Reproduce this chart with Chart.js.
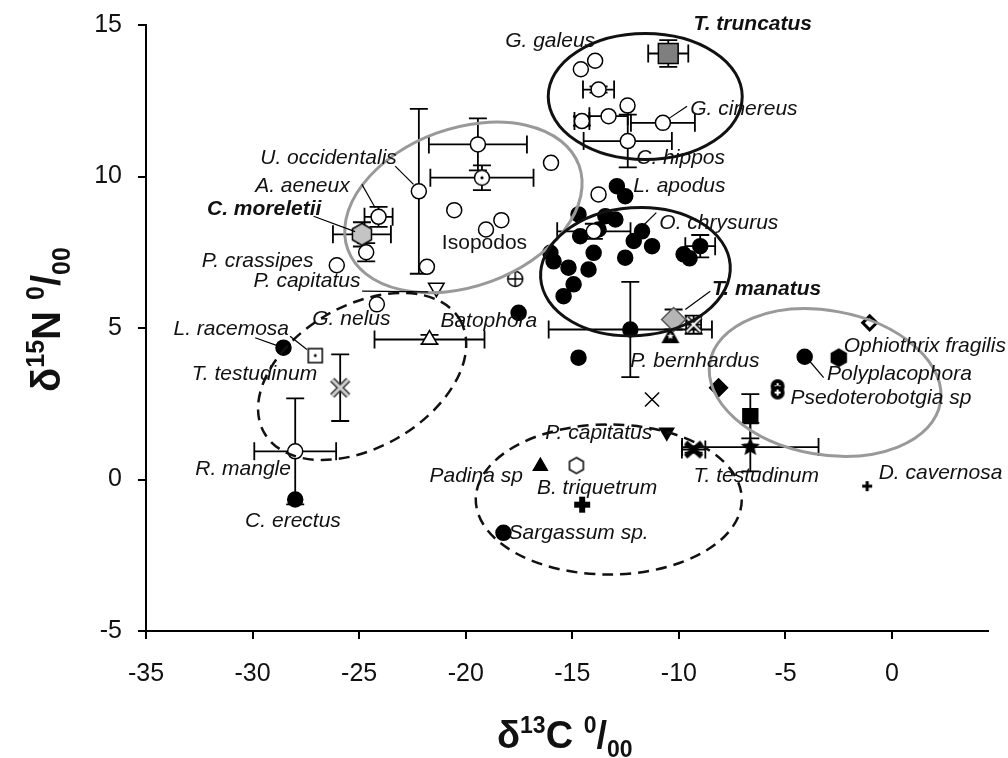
<!DOCTYPE html>
<html>
<head>
<meta charset="utf-8">
<script src="https://cdn.jsdelivr.net/npm/chart.js@4.4.1/dist/chart.umd.min.js"></script>
<style>
  html, body { margin: 0; padding: 0; background: #fff; }
  canvas { display: block; }
</style>
</head>
<body>
<canvas id="c" width="1008" height="758"></canvas>
<script>
// ---- data (delta13C, delta15N, +/- error C, +/- error N) ----
var X_TICKS = [-35, -30, -25, -20, -15, -10, -5, 0];
var Y_TICKS = [-5, 0, 5, 10, 15];

var OPEN_CIRCLES = [
  [-14.6, 13.54], [-13.93, 13.82], [-13.77, 12.87, 0.73, 0.1], [-12.41, 12.34],
  [-13.3, 11.99, 0.9, 0], [-14.55, 11.83, 0.35, 0.15], [-10.75, 11.77, 1.5, 0],
  [-12.4, 11.17, 2.07, 0.87], [-19.43, 11.06, 2.3, 0.86], [-20.54, 8.89],
  [-18.33, 8.56], [-19.05, 8.25], [-16.0, 10.45], [-22.2, 9.51, 0, 2.72],
  [-21.82, 7.02], [-24.09, 8.67, 0.66, 0.33], [-24.67, 7.5, 0, 0.3],
  [-26.05, 7.07], [-24.17, 5.78], [-28.0, 0.93, 1.92, 1.75],
  [-13.77, 9.41], [-13.99, 8.19, 1.72, 0.25]
];
var FILLED_CIRCLES = [
  [-28.55, 4.35], [-28.0, -0.66], [-18.23, -1.76], [-17.52, 5.5], [-14.71, 4.02],
  [-12.28, 4.95, 3.83, 1.57], [-12.91, 9.68], [-12.52, 9.35], [-14.71, 8.75],
  [-13.45, 8.69], [-12.98, 8.58], [-13.77, 8.25], [-14.63, 8.03], [-11.73, 8.19],
  [-12.12, 7.87], [-11.26, 7.7], [-14.0, 7.48], [-16.03, 7.48], [-15.88, 7.2],
  [-12.52, 7.32], [-15.18, 6.99], [-14.24, 6.93], [-14.94, 6.44], [-15.41, 6.05],
  [-9.78, 7.43], [-9.0, 7.7, 0.7, 0.37], [-9.5, 7.3], [-4.1, 4.05]
];
var TRUNCATUS = [[-10.5, 14.06, 0.94, 0.44]];
var MANATUS = [[-10.25, 5.28, 0, 0.33]];
var MORELETII = [[-24.87, 8.09, 1.36, 0.4]];
var GREY_X = [[-25.89, 3.03, 0, 1.1]];
var OPEN_TRI = [[-21.7, 4.62, 2.58, 0.15]];
var OPEN_TRI_DOWN = [[-21.38, 6.33]];
var FILLED_TRI_DOWN = [[-10.57, 1.56]];
var FILLED_TRI = [[-16.5, 0.44]];
var TRI_STAR = [[-10.4, 4.73]];
var CIRCLE_PLUS = [[-17.68, 6.62]];
var CIRCLE_DOT = [[-19.24, 9.96, 2.42, 0.41]];
var SQUARE_DOT = [[-27.06, 4.09]];
var HEX_OPEN = [[-14.81, 0.46]];
var HEX_FILLED = [[-2.5, 4.02]];
var PLUS_BOLD = [[-14.54, -0.83]];
var PLUS_SMALL = [[-1.17, -0.22]];
var X_THIN = [[-11.26, 2.64]];
var X_OPEN = [[-9.31, 5.11, 0.35, 0.3]];
var X_FILLED = [[-9.31, 0.99, 0.55, 0.1]];
var STAR_FILLED = [[-6.65, 1.07, 3.2, 0.8]];
var SQUARE_FILLED = [[-6.65, 2.09, 0, 0.73]];
var DIAMOND_FILLED = [[-8.14, 3.03]];
var DIAMOND_OPEN = [[-1.05, 5.17]];
var RING_CROSS = [[-5.37, 3.08], [-5.37, 2.87]];

// ---- annotations ----
// [text, x, y, style]  (x = left edge, y = middle)
var LABELS = [
  ['G. galeus', -18.15, 14.46, 'i'], ['T. truncatus', -9.32, 15.02, 'bi'],
  ['G. cinereus', -9.47, 12.21, 'i'], ['C. hippos', -12.0, 10.59, 'i'],
  ['L. apodus', -12.14, 9.68, 'i'], ['O. chrysurus', -10.92, 8.47, 'i'],
  ['U. occidentalis', -29.64, 10.62, 'i'], ['A. aeneux', -29.88, 9.68, 'i'],
  ['C. moreletii', -32.14, 8.91, 'bi'], ['P. crassipes', -32.38, 7.2, 'i'],
  ['P. capitatus', -29.96, 6.54, 'i'], ['G. nelus', -27.2, 5.28, 'i'],
  ['Batophora', -21.19, 5.22, 'i'], ['L. racemosa', -33.71, 4.95, 'i'],
  ['T. testudinum', -32.85, 3.47, 'i'], ['R. mangle', -32.69, 0.33, 'i'],
  ['C. erectus', -30.35, -1.38, 'i'], ['T. manatus', -8.45, 6.29, 'bi'],
  ['P. bernhardus', -12.28, 3.9, 'i'], ['Ophiothrix fragilis', -2.27, 4.4, 'i'],
  ['Polyplacophora', -3.05, 3.47, 'i'], ['Psedoterobotgia sp', -4.77, 2.7, 'i'],
  ['T. testudinum', -9.31, 0.11, 'i'], ['D. cavernosa', -0.63, 0.22, 'i'],
  ['P. capitatus', -16.27, 1.54, 'i'], ['Padina sp', -21.7, 0.11, 'i'],
  ['B. triquetrum', -16.66, -0.27, 'i'], ['Sargassum sp.', -17.99, -1.76, 'i'],
  ['Isopodos', -21.12, 7.81, 'n']
];
var LEADERS = [
  [-9.62, 12.32, -10.48, 11.91], [-23.31, 10.34, -22.45, 9.74],
  [-24.87, 9.74, -24.25, 8.97], [-27.14, 8.69, -25.19, 8.18],
  [-24.86, 6.22, -21.76, 6.19], [-29.88, 4.68, -28.78, 4.4],
  [-28.24, 4.73, -27.45, 4.29], [-8.53, 6.21, -9.7, 5.61],
  [-3.93, 3.96, -3.21, 3.36], [-11.06, 8.81, -11.72, 8.35]
];
// [cx, cy, rx(px), ry(px), rotation(deg), colour, dashed]
var ELLIPSES = [
  [-11.58, 12.64, 97, 63, 0, '#111', false],
  [-20.11, 8.98, 123, 79, -20, '#999', false],
  [-12.04, 6.86, 95, 64, -4, '#111', false],
  [-3.14, 3.2, 117, 72, 10, '#999', false],
  [-24.86, 3.4, 113, 71, -30, '#111', true],
  [-13.29, -0.66, 133, 75, 0, '#111', true]
];

var FONT = '"Liberation Sans", Arial, sans-serif';
var CAP = 9;

function pts(arr) {
  return arr.map(function (p) {
    return { x: p[0], y: p[1], xe: p[2] || 0, ye: p[3] || 0 };
  });
}

function icon(size, draw) {
  var c = document.createElement('canvas');
  c.width = c.height = size;
  var g = c.getContext('2d');
  g.translate(size / 2, size / 2);
  draw(g);
  return c;
}
function hexPath(g, r) {
  g.beginPath();
  for (var i = 0; i < 6; i++) {
    var a = -Math.PI / 2 + i * Math.PI / 3;
    g.lineTo(r * Math.cos(a), r * Math.sin(a));
  }
  g.closePath();
}
function starPath(g, r) {
  g.beginPath();
  for (var i = 0; i < 10; i++) {
    var a = -Math.PI / 2 + i * Math.PI / 5;
    var rr = i % 2 ? r * 0.45 : r;
    g.lineTo(rr * Math.cos(a), rr * Math.sin(a));
  }
  g.closePath();
}

var ICONS = {
  hexOpen: icon(20, function (g) { hexPath(g, 8); g.fillStyle = '#fff'; g.fill(); g.lineWidth = 1.5; g.stroke(); }),
  hexFilled: icon(22, function (g) { hexPath(g, 9.5); g.fillStyle = '#000'; g.fill(); }),
  hexGrey: icon(26, function (g) { hexPath(g, 11); g.fillStyle = '#c4c4c4'; g.fill(); g.lineWidth = 1.5; g.stroke(); }),
  circlePlus: icon(20, function (g) {
    g.beginPath(); g.arc(0, 0, 7.5, 0, Math.PI * 2); g.fillStyle = '#fff'; g.fill();
    g.lineWidth = 1.5; g.stroke();
    g.beginPath(); g.moveTo(-7.5, 0); g.lineTo(7.5, 0); g.moveTo(0, -7.5); g.lineTo(0, 7.5); g.stroke();
  }),
  circleDot: icon(20, function (g) {
    g.beginPath(); g.arc(0, 0, 7.5, 0, Math.PI * 2); g.fillStyle = '#fff'; g.fill();
    g.lineWidth = 1.5; g.stroke();
    g.beginPath(); g.arc(0, 0, 1.6, 0, Math.PI * 2); g.fillStyle = '#000'; g.fill();
  }),
  squareDot: icon(20, function (g) {
    g.fillStyle = '#fff'; g.fillRect(-7, -7, 14, 14); g.lineWidth = 1.5; g.strokeRect(-7, -7, 14, 14);
    g.beginPath(); g.arc(0, 0, 1.4, 0, Math.PI * 2); g.fillStyle = '#000'; g.fill();
  }),
  greyX: icon(24, function (g) {
    g.lineCap = 'butt';
    g.beginPath(); g.moveTo(-8, -8); g.lineTo(8, 8); g.moveTo(8, -8); g.lineTo(-8, 8);
    g.strokeStyle = '#333'; g.lineWidth = 6; g.stroke();
    g.strokeStyle = '#cfcfcf'; g.lineWidth = 3; g.stroke();
  }),
  xOpen: icon(22, function (g) {
    g.beginPath(); g.moveTo(-7, -7); g.lineTo(7, 7); g.moveTo(7, -7); g.lineTo(-7, 7);
    g.strokeStyle = '#000'; g.lineWidth = 5; g.stroke();
    g.strokeStyle = '#fff'; g.lineWidth = 2; g.stroke();
  }),
  xFilled: icon(22, function (g) {
    g.beginPath(); g.moveTo(-8, -7); g.lineTo(8, 7); g.moveTo(8, -7); g.lineTo(-8, 7);
    g.strokeStyle = '#000'; g.lineWidth = 5; g.stroke();
  }),
  starFilled: icon(24, function (g) { starPath(g, 10); g.fillStyle = '#000'; g.fill(); }),
  triStar: icon(22, function (g) {
    g.beginPath(); g.moveTo(0, -9); g.lineTo(9, 7); g.lineTo(-9, 7); g.closePath();
    g.fillStyle = '#000'; g.fill();
    starPath(g, 3.5); g.fillStyle = '#fff'; g.fill();
  }),
  plusBold: icon(20, function (g) { g.fillStyle = '#000'; g.fillRect(-8, -3, 16, 6); g.fillRect(-3, -8, 6, 16); }),
  plusSmall: icon(14, function (g) { g.fillStyle = '#000'; g.fillRect(-5, -1.5, 10, 3); g.fillRect(-1.5, -5, 3, 10); }),
  ringCross: icon(20, function (g) {
    g.beginPath(); g.arc(0, 0, 7, 0, Math.PI * 2); g.fillStyle = '#000'; g.fill();
    g.fillStyle = '#fff'; g.fillRect(-3, -1, 6, 2); g.fillRect(-1, -3, 2, 6);
  })
};

function ds(arr, opts) {
  return Object.assign({
    data: pts(arr), showLine: false, pointRadius: 8, pointHoverRadius: 8,
    borderColor: '#000', backgroundColor: '#000', borderWidth: 1.5
  }, opts);
}

var errorBars = {
  id: 'errorBars',
  beforeDatasetsDraw: function (chart) {
    var ctx = chart.ctx, xs = chart.scales.x, ys = chart.scales.y;
    ctx.save();
    ctx.strokeStyle = '#000';
    ctx.lineWidth = 1.8;
    chart.data.datasets.forEach(function (d) {
      d.data.forEach(function (p) {
        var px = xs.getPixelForValue(p.x), py = ys.getPixelForValue(p.y);
        ctx.beginPath();
        if (p.xe) {
          var l = xs.getPixelForValue(p.x - p.xe), r = xs.getPixelForValue(p.x + p.xe);
          ctx.moveTo(l, py); ctx.lineTo(r, py);
          ctx.moveTo(l, py - CAP); ctx.lineTo(l, py + CAP);
          ctx.moveTo(r, py - CAP); ctx.lineTo(r, py + CAP);
        }
        if (p.ye) {
          var t = ys.getPixelForValue(p.y + p.ye), b = ys.getPixelForValue(p.y - p.ye);
          ctx.moveTo(px, t); ctx.lineTo(px, b);
          ctx.moveTo(px - CAP, t); ctx.lineTo(px + CAP, t);
          ctx.moveTo(px - CAP, b); ctx.lineTo(px + CAP, b);
        }
        ctx.stroke();
      });
    });
    ctx.restore();
  }
};

var overlays = {
  id: 'overlays',
  afterDatasetsDraw: function (chart) {
    var ctx = chart.ctx, xs = chart.scales.x, ys = chart.scales.y;
    ctx.save();
    // ellipses
    ELLIPSES.forEach(function (e) {
      ctx.beginPath();
      ctx.ellipse(xs.getPixelForValue(e[0]), ys.getPixelForValue(e[1]), e[2], e[3],
        e[4] * Math.PI / 180, 0, Math.PI * 2);
      ctx.strokeStyle = e[5];
      ctx.lineWidth = e[6] ? 2.5 : 3;
      ctx.setLineDash(e[6] ? [11, 7] : []);
      ctx.stroke();
    });
    ctx.setLineDash([]);
    // leader lines
    ctx.strokeStyle = '#000';
    ctx.lineWidth = 1.2;
    LEADERS.forEach(function (l) {
      ctx.beginPath();
      ctx.moveTo(xs.getPixelForValue(l[0]), ys.getPixelForValue(l[1]));
      ctx.lineTo(xs.getPixelForValue(l[2]), ys.getPixelForValue(l[3]));
      ctx.stroke();
    });
    // labels
    ctx.fillStyle = '#111';
    ctx.textBaseline = 'middle';
    ctx.textAlign = 'left';
    LABELS.forEach(function (l) {
      var st = l[3] === 'bi' ? 'italic bold ' : (l[3] === 'i' ? 'italic ' : '');
      ctx.font = st + '21px ' + FONT;
      ctx.fillText(l[0], xs.getPixelForValue(l[1]), ys.getPixelForValue(l[2]));
    });
    ctx.restore();
  },
  afterDraw: function (chart) {
    var ctx = chart.ctx;
    var parts = function (iso, big, small, rise) {
      return [
        ['\u03b4', big, 0], [iso, small, -rise], [iso === '15' ? 'N' : 'C', big, 0],
        [' ', big, 0], ['0', small, -rise], ['/', big, 0], ['00', small, rise * 0.6]
      ];
    };
    function rich(list, x, y) {
      ctx.textBaseline = 'alphabetic';
      ctx.textAlign = 'left';
      list.forEach(function (p) {
        ctx.font = 'bold ' + p[1] + 'px ' + FONT;
        ctx.fillText(p[0], x, y + p[2]);
        x += ctx.measureText(p[0]).width;
      });
    }
    ctx.save();
    ctx.fillStyle = '#111';
    rich(parts('13', 38, 23, 15), 497, 748);
    ctx.translate(60, 392);
    ctx.rotate(-Math.PI / 2);
    rich(parts('15', 40, 25, 16), 0, 0);
    ctx.restore();
  }
};

var axisCommon = {
  type: 'linear',
  grid: { display: true, drawOnChartArea: false, drawTicks: true, tickLength: 8, color: '#000', lineWidth: 2 },
  border: { display: true, color: '#000', width: 2 },
  ticks: { color: '#111', font: { family: FONT, size: 25 }, autoSkip: false, maxRotation: 0 }
};

new Chart(document.getElementById('c'), {
  type: 'scatter',
  data: {
    datasets: [
      ds(OPEN_CIRCLES, { backgroundColor: '#fff', pointRadius: 7.5 }),
      ds(FILLED_CIRCLES, { pointRadius: 7.5 }),
      ds(TRUNCATUS, { pointStyle: 'rect', pointRadius: 14, backgroundColor: '#7f7f7f' }),
      ds(MANATUS, { pointStyle: 'rectRot', pointRadius: 12, backgroundColor: '#b5b5b5', borderColor: '#555' }),
      ds(MORELETII, { pointStyle: ICONS.hexGrey }),
      ds(GREY_X, { pointStyle: ICONS.greyX }),
      ds(OPEN_TRI, { pointStyle: 'triangle', pointRadius: 9, backgroundColor: '#fff' }),
      ds(OPEN_TRI_DOWN, { pointStyle: 'triangle', rotation: 180, pointRadius: 9, backgroundColor: '#fff' }),
      ds(FILLED_TRI_DOWN, { pointStyle: 'triangle', rotation: 180, pointRadius: 8 }),
      ds(FILLED_TRI, { pointStyle: 'triangle', pointRadius: 8 }),
      ds(TRI_STAR, { pointStyle: ICONS.triStar }),
      ds(CIRCLE_PLUS, { pointStyle: ICONS.circlePlus }),
      ds(CIRCLE_DOT, { pointStyle: ICONS.circleDot }),
      ds(SQUARE_DOT, { pointStyle: ICONS.squareDot }),
      ds(HEX_OPEN, { pointStyle: ICONS.hexOpen }),
      ds(HEX_FILLED, { pointStyle: ICONS.hexFilled }),
      ds(PLUS_BOLD, { pointStyle: ICONS.plusBold }),
      ds(PLUS_SMALL, { pointStyle: ICONS.plusSmall }),
      ds(X_THIN, { pointStyle: 'crossRot', pointRadius: 10, borderWidth: 1.5 }),
      ds(X_OPEN, { pointStyle: ICONS.xOpen }),
      ds(X_FILLED, { pointStyle: ICONS.xFilled }),
      ds(SQUARE_FILLED, { pointStyle: 'rect', pointRadius: 10.5 }),
      ds(STAR_FILLED, { pointStyle: ICONS.starFilled }),
      ds(DIAMOND_FILLED, { pointStyle: 'rectRot', pointRadius: 9 }),
      ds(DIAMOND_OPEN, { pointStyle: 'rectRot', pointRadius: 7, backgroundColor: '#fff', borderWidth: 3 }),
      ds(RING_CROSS, { pointStyle: ICONS.ringCross })
    ]
  },
  options: {
    responsive: false,
    animation: false,
    events: [],
    layout: { padding: { top: 25, right: 20, left: 0, bottom: 0 } },
    plugins: { legend: { display: false }, tooltip: { enabled: false } },
    scales: {
      x: Object.assign({}, axisCommon, {
        min: -35, max: 4.5,
        ticks: Object.assign({}, axisCommon.ticks, { padding: 20 }),
        afterBuildTicks: function (s) { s.ticks = X_TICKS.map(function (v) { return { value: v }; }); },
        afterFit: function (s) { s.height = 127; s.paddingLeft = 0; s.paddingRight = 0; }
      }),
      y: Object.assign({}, axisCommon, {
        min: -5, max: 15,
        ticks: Object.assign({}, axisCommon.ticks, { padding: 16 }),
        afterBuildTicks: function (s) { s.ticks = Y_TICKS.map(function (v) { return { value: v }; }); },
        // keep the plot top at the reference position (label overhang is not needed)
        afterFit: function (s) { s.width = 146; s.paddingTop = 0; s.paddingBottom = 0; }
      })
    }
  },
  plugins: [errorBars, overlays]
});
</script>
</body>
</html>
